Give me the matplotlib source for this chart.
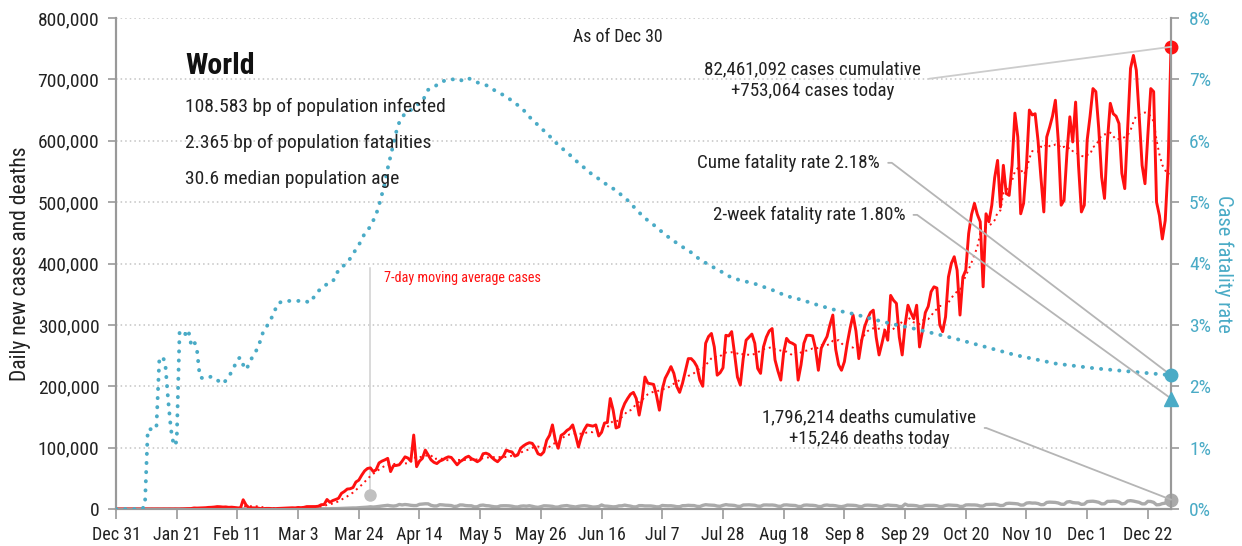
import numpy as np
import pandas as pd
import matplotlib
matplotlib.use('Agg')
import matplotlib.pyplot as plt
import matplotlib.dates as mdates

plt.rcParams['font.family'] = ['Roboto Condensed', 'Liberation Sans Narrow', 'Roboto', 'DejaVu Sans']

#=====================================================================
#data (thousands of people per day, day 0 = Dec 31)
#=====================================================================
start_date = '2019-12-31'

daily_cases_k = [
    0, 0, 0, 0, 0, 0, 0, 0, 0, 0,
    0, 0, 0, 0, 0, 0, 0, 0, 0, 0,
    0.1, 0.15, 0.1, 0.3, 0.5, 0.7, 0.8, 1.7, 1.5, 1.7,
    2.0, 2.1, 2.6, 2.8, 3.2, 3.9, 3.7, 3.2, 3.4, 2.7,
    3.0, 2.5, 2.0, 0.4, 15.1, 6.5, 2.1, 2.0, 1.9, 1.7,
    0.7, 0.6, 1.0, 1.0, 0.6, 0.5, 0.9, 1.1, 1.3, 1.4,
    1.8, 2.0, 1.8, 2.5, 2.2, 2.7, 3.9, 3.9, 3.9, 4.0,
    4.5, 7.0, 7.3, 15.5, 10.9, 13.8, 15.5, 17.5, 25.5, 28.5,
    32.5, 33, 35, 44, 47, 55, 62, 66, 67, 61,
    64, 75, 78, 80, 82.5, 61, 70.6, 71, 72, 78,
    85, 83, 78, 120.5, 69, 78, 82.5, 96, 88, 80,
    76, 74, 78, 80, 83, 85, 84, 78, 72, 77,
    80, 84, 86, 82, 80, 77, 80, 90, 91, 89,
    84, 80, 77, 82, 86, 96, 94, 93, 86, 88,
    99, 103, 106, 108, 107, 100, 90, 88, 93, 112,
    120, 137, 112, 99, 120, 123, 128, 131, 137, 120,
    101, 118, 129, 137, 136, 135, 137, 119, 125, 140,
    141, 180, 161, 132, 134, 160, 172, 180, 187, 190,
    180, 153, 178, 215, 205, 204, 203, 185, 161, 195,
    213, 222, 232, 221, 200, 190, 205, 225, 245, 245,
    240, 232, 210, 200, 270, 281, 286, 264, 218, 222,
    230, 283, 282, 289, 253, 215, 202, 245, 275, 280,
    285, 270, 229, 221, 264, 280, 290, 294, 243, 225,
    210, 255, 278, 272, 270, 267, 210, 235, 270, 283,
    283, 282, 262, 226, 262, 272, 281, 300, 316, 260,
    235, 226, 240, 270, 295, 316, 290, 245, 275, 297,
    310, 320, 324, 280, 251, 270, 291, 275, 348, 340,
    335, 280, 251, 300, 332, 320, 310, 332, 264, 290,
    320, 330, 354, 362, 360, 300, 289, 313, 378, 400,
    411, 389, 316, 378, 389, 449, 480, 498, 480, 468,
    362, 481, 468, 495, 540, 568, 492, 560, 514, 511,
    560, 645, 606, 481, 498, 560, 650, 642, 644, 600,
    540, 484, 606, 622, 640, 666, 600, 495, 503, 580,
    639, 598, 663, 560, 484, 495, 601, 640, 685, 680,
    620, 541, 506, 600, 661, 644, 640, 628, 547, 522,
    620, 718, 739, 715, 640, 560, 530, 610, 685, 680,
    500, 478, 440, 470, 560, 753.064,
]

daily_deaths_k = [
    #Dec 31 - Jan 21
    0, 0, 0, 0, 0, 0, 0, 0, 0, 0, 0, 0, 0, 0, 0, 0, 0, 0, 0, 0, 0, 0,
    #Jan 22 - Feb 9
    0.02, 0.01, 0.01, 0.02, 0.01, 0.03, 0.03, 0.03, 0.04, 0.04, 0.05, 0.06, 0.06, 0.07,
    0.07, 0.07, 0.09, 0.09, 0.10,
    #Feb 10 - Feb 29
    0.11, 0.10, 0.10, 0.25, 0.14, 0.14, 0.11, 0.10, 0.10, 0.14, 0.12, 0.12, 0.10, 0.16,
    0.07, 0.08, 0.06, 0.05, 0.04, 0.06,
    #Mar
    0.06, 0.07, 0.08, 0.10, 0.10, 0.10, 0.11, 0.21, 0.23, 0.26, 0.32, 0.35, 0.42, 0.42,
    0.68, 0.62, 0.82, 1.0, 1.1, 1.4, 1.6, 1.7, 1.7, 2.1, 2.4, 2.7, 3.0, 3.6, 3.2, 3.6, 4.3,
    #Apr
    4.9, 5.5, 6.0, 5.2, 4.8, 5.4, 7.4, 6.6, 7.3, 6.8, 6.0, 5.6, 5.6, 7.6, 8.0, 8.5, 8.4,
    6.0, 5.0, 5.0, 7.0, 6.7, 6.2, 6.0, 5.6, 4.0, 4.6, 6.6, 6.5, 5.6,
    #May
    5.3, 5.2, 3.5, 3.7, 5.9, 6.4, 5.5, 5.2, 4.3, 3.6, 3.5, 5.1, 5.3, 5.3, 5.1, 4.5, 3.5,
    3.3, 4.6, 5.0, 4.6, 5.3, 4.4, 3.3, 2.7, 3.8, 5.2, 5.1, 4.8, 4.3, 3.1,
    #Jun
    3.2, 4.6, 5.2, 5.6, 4.6, 4.0, 3.3, 4.3, 5.0, 5.3, 4.9, 4.1, 3.2, 3.4, 4.0, 6.6, 4.8,
    4.6, 4.0, 3.5, 3.8, 5.1, 5.2, 6.3, 5.4, 4.7, 3.5, 3.5, 5.5, 5.5,
    #Jul
    5.0, 5.0, 5.0, 4.4, 3.5, 3.6, 5.8, 5.4, 5.2, 5.3, 4.7, 3.8, 3.7, 5.4, 5.5, 6.0, 5.7,
    5.6, 4.3, 4.0, 5.9, 7.0, 6.5, 6.2, 6.0, 4.8, 4.4, 6.0, 7.1, 6.4, 6.2,
    #Aug
    5.8, 4.4, 4.2, 6.5, 6.6, 6.8, 6.5, 6.1, 4.7, 4.5, 6.5, 6.6, 6.4, 6.5, 6.0, 4.6, 4.3,
    6.5, 6.7, 6.2, 6.0, 5.7, 4.2, 4.0, 6.2, 6.5, 6.1, 6.0, 5.5, 4.1, 4.0,
    #Sep
    6.0, 6.5, 5.8, 5.8, 5.3, 4.3, 3.8, 4.7, 6.3, 6.2, 6.0, 5.6, 4.3, 3.8, 6.0, 6.3, 6.1,
    5.7, 5.5, 4.2, 3.8, 5.8, 6.5, 6.0, 5.8, 5.5, 4.0, 4.0, 8.0, 5.9,
    #Oct
    6.0, 5.8, 5.3, 3.9, 4.2, 5.8, 6.0, 6.0, 5.9, 5.3, 3.9, 4.1, 5.9, 6.5, 6.2, 6.0, 5.7,
    4.1, 4.2, 6.6, 6.8, 6.6, 6.6, 6.2, 4.8, 4.8, 7.3, 7.4, 7.6, 7.8, 6.9,
    #Nov
    5.6, 5.9, 8.9, 9.4, 9.1, 8.8, 8.3, 6.4, 6.5, 9.6, 10.2, 9.6, 9.7, 8.9, 7.0, 7.2, 10.7,
    11.2, 10.9, 10.7, 9.8, 7.8, 7.6, 11.4, 12.1, 10.5, 10.0, 9.8, 7.5, 8.0,
    #Dec 1 - Dec 30
    12.0, 12.5, 12.7, 12.0, 10.9, 8.3, 8.5, 12.4, 12.4, 12.8, 12.4, 11.3, 8.3, 8.9, 13.0,
    13.6, 12.9, 11.8, 10.8, 8.4, 8.4, 12.5, 12.2, 10.8, 6.8, 7.1, 8.8, 9.5, 14.6, 15.246,
]

#cumulative case fatality rate (%) at selected days
cfr_day = [0, 9, 10, 11, 12, 13, 14, 15, 16, 17, 18, 19, 20, 21, 22, 23, 24, 25, 26, 27,
           28, 29, 30, 31, 33, 35, 37, 39, 41, 42, 43, 44, 45, 46, 47, 49, 50, 51, 52, 53,
           54, 55, 56, 58, 61, 63, 65, 67, 70, 72, 75, 76, 78, 79, 81, 83, 85, 86, 88, 90,
           91, 93, 94, 95, 96, 97, 98, 100, 102, 104, 106, 108, 110, 112, 115, 117, 119,
           121, 123, 125, 127, 129, 131, 133, 135, 137, 139, 141, 143, 145, 147, 149, 151,
           153, 155, 157, 159, 161, 163, 165, 167, 169, 171, 173, 175, 177, 179, 181, 184,
           186, 188, 190, 192, 195, 197, 199, 201, 203, 205, 207, 209, 211, 213, 215, 221,
           227, 232, 237, 243, 249, 256, 262, 269, 276, 283, 290, 297, 304, 311, 318, 325,
           332, 339, 346, 353, 360, 365]
cfr_pct = [0, 0, 0.05, 1.3, 1.3, 1.28, 1.35, 2.45, 2.48, 2.4, 1.8, 1.3, 1.03, 1.1, 2.9, 2.9,
           2.85, 2.92, 2.68, 2.74, 2.6, 2.15, 2.13, 2.12, 2.16, 2.1, 2.04, 2.15, 2.33, 2.44,
           2.47, 2.35, 2.27, 2.36, 2.46, 2.62, 2.75, 2.9, 2.96, 3.05, 3.13, 3.24, 3.35, 3.39,
           3.39, 3.39, 3.40, 3.36, 3.55, 3.64, 3.7, 3.82, 3.95, 3.97, 4.08, 4.23, 4.38, 4.49,
           4.6, 4.8, 4.95, 5.3, 5.55, 5.75, 5.95, 6.15, 6.3, 6.45, 6.5, 6.58, 6.64, 6.83,
           6.87, 6.95, 7.0, 7.0, 6.97, 7.03, 7.0, 6.95, 6.92, 6.89, 6.82, 6.77, 6.72, 6.65,
           6.58, 6.5, 6.39, 6.3, 6.21, 6.12, 6.03, 5.93, 5.85, 5.77, 5.68, 5.6, 5.52, 5.44,
           5.38, 5.31, 5.25, 5.19, 5.11, 5.03, 4.93, 4.83, 4.7, 4.63, 4.55, 4.47, 4.4, 4.3,
           4.24, 4.18, 4.1, 4.04, 3.98, 3.93, 3.88, 3.82, 3.77, 3.74, 3.67, 3.57, 3.47, 3.41,
           3.32, 3.24, 3.17, 3.09, 3.01, 2.94, 2.86, 2.78, 2.69, 2.6, 2.51, 2.44, 2.37, 2.33,
           2.29, 2.26, 2.23, 2.2, 2.18]

two_week_cfr_pct = 1.80

xtick_labels = ['Dec 31', 'Jan 21', 'Feb 11', 'Mar 3', 'Mar 24', 'Apr 14', 'May 5', 'May 26',
                'Jun 16', 'Jul 7', 'Jul 28', 'Aug 18', 'Sep 8', 'Sep 29', 'Oct 20', 'Nov 10',
                'Dec 1', 'Dec 22']
left_ticks = [0, 100000, 200000, 300000, 400000, 500000, 600000, 700000, 800000]
right_ticks = [0, 1, 2, 3, 4, 5, 6, 7, 8]

title_text = 'World'
info_lines = ['108.583 bp of population infected',
              '2.365 bp of population fatalities',
              '30.6 median population age']
asof_text = 'As of Dec 30'
cases_note = '82,461,092 cases cumulative\n+753,064 cases today'
deaths_note = '1,796,214 deaths cumulative\n+15,246 deaths today'
cume_note = 'Cume fatality rate 2.18%'
two_week_note = '2-week fatality rate 1.80%'
ma_note = '7-day moving average cases'
ma_pointer_date = '2020-03-28'
ma_pointer_val = 22000

#=====================================================================
#prep
#=====================================================================
cases = np.array(daily_cases_k) * 1000
deaths = np.array(daily_deaths_k) * 1000
dates = pd.date_range(start_date, periods=len(cases), freq='D')
ma7 = pd.Series(cases).rolling(7, min_periods=1).mean()
cfr_dates = pd.Timestamp(start_date) + pd.to_timedelta(cfr_day, unit='D')

red = '#ff1010'
teal = '#4aabc6'
grey = '#aaaaaa'
axis_grey = '#999999'
ink = '#222222'
note_size = 13.7

#=====================================================================
#plot
#=====================================================================
fig = plt.figure(figsize=(12.42, 5.46), dpi=100)
ax = fig.add_axes([116/1242, 37/546, 1055/1242, 491/546])
ax2 = ax.twinx()

for y in left_ticks[1:]:
    ax.axhline(y, color='#c4c4c4', lw=1.1, ls=(0, (1, 2)), zorder=0)

ax.plot(dates, deaths, color=grey, lw=2.4, zorder=2)
ax.plot(dates, ma7, color=red, lw=1.4, ls=(0, (1, 2)), zorder=3)
ax.plot(dates, cases, color=red, lw=2.1, zorder=4)

ax2.plot(cfr_dates, cfr_pct, color=teal, lw=2.8, ls=(0, (0.05, 2.3)),
         dash_capstyle='round', zorder=3)

#end markers
ax.plot(dates[-1], cases[-1], 'o', color=red, ms=9, clip_on=False, zorder=6)
ax.plot(dates[-1], deaths[-1], 'o', color=grey, ms=9, clip_on=False, zorder=6)
ax2.plot(cfr_dates[-1], cfr_pct[-1], 'o', color=teal, ms=9, clip_on=False, zorder=6)
ax2.plot(dates[-1], two_week_cfr_pct, '^', color=teal, ms=10, clip_on=False, zorder=6)

#axes
ax.set_xlim(dates[0], dates[-1])
ax.set_ylim(0, 800000)
ax2.set_ylim(0, 8)
xt = pd.date_range(start_date, periods=len(xtick_labels), freq='21D')
ax.set_xticks(xt)
ax.set_xticklabels(xtick_labels)
ax.set_yticks(left_ticks)
ax.set_yticklabels([f'{v:,}' for v in left_ticks])
ax2.set_yticks(right_ticks)
ax2.set_yticklabels([f'{v}%' for v in right_ticks])

for a in (ax, ax2):
    a.spines['top'].set_visible(False)
    for s in ('left', 'right', 'bottom'):
        a.spines[s].set_color(axis_grey)
        a.spines[s].set_linewidth(1.5)
ax.tick_params(axis='y', length=6, width=1.2, color=axis_grey, labelsize=14, labelcolor=ink, pad=6)
ax.tick_params(axis='x', length=7, width=1.2, color=axis_grey, labelsize=13, labelcolor=ink, pad=5)
ax2.tick_params(axis='y', length=6, width=1.2, color=axis_grey, labelsize=14, labelcolor=teal, pad=7)

ax.set_ylabel('Daily new cases and deaths', fontsize=15.5, color=ink, labelpad=5)
ax2.set_ylabel('Case fatality rate', fontsize=14.8, color=teal, rotation=270, labelpad=16)

#texts
ax2.text(0.0654, 0.902, title_text, transform=ax.transAxes, fontsize=21.5, ha='left', va='center',
         color='#111111', fontweight='bold')
for i, line in enumerate(info_lines):
    ax2.text(0.0654, 0.819 - i*0.0735, line, transform=ax.transAxes, fontsize=14,
             ha='left', va='center', color=ink)
ax2.text(0.476, 0.961, asof_text, transform=ax.transAxes, fontsize=12.8, ha='center',
         va='center', color=ink)

x_last = mdates.date2num(dates[-1])
ax2.annotate(cases_note, xy=(x_last, cases[-1]), xycoords=ax.transData,
             xytext=(0.66, 0.874), textcoords=ax.transAxes, fontsize=note_size,
             ha='center', va='center', color=ink, linespacing=1.25,
             arrowprops=dict(arrowstyle='-', color='#cccccc', lw=1.3, shrinkA=4,
                             shrinkB=0, relpos=(1, 0.5)))
ax2.annotate(cume_note, xy=(x_last, cfr_pct[-1]), xycoords='data',
             xytext=(0.724, 0.705), textcoords=ax.transAxes, fontsize=note_size,
             ha='right', va='center', color=ink,
             arrowprops=dict(arrowstyle='-', color='#b5b5b5', lw=1.3, shrinkA=4, shrinkB=0,
                             relpos=(1, 0.5),
                             connectionstyle='arc,angleA=0,armA=12,angleB=0,armB=0,rad=0'))
ax2.annotate(two_week_note, xy=(x_last, two_week_cfr_pct), xycoords='data',
             xytext=(0.748, 0.599), textcoords=ax.transAxes, fontsize=note_size,
             ha='right', va='center', color=ink,
             arrowprops=dict(arrowstyle='-', color='#b5b5b5', lw=1.3, shrinkA=4, shrinkB=0,
                             relpos=(1, 0.5),
                             connectionstyle='arc,angleA=0,armA=12,angleB=0,armB=0,rad=0'))
ax2.annotate(deaths_note, xy=(x_last, deaths[-1]), xycoords=ax.transData,
             xytext=(0.714, 0.165), textcoords=ax.transAxes, fontsize=note_size,
             ha='center', va='center', color=ink, linespacing=1.25,
             arrowprops=dict(arrowstyle='-', color='#b5b5b5', lw=1.3, shrinkA=4, shrinkB=0,
                             relpos=(1, 0.5),
                             connectionstyle='arc,angleA=0,armA=10,angleB=0,armB=0,rad=0'))

#moving average label with pointer
ma_x = pd.Timestamp(ma_pointer_date)
ax.plot([ma_x, ma_x], [ma_pointer_val, 392000], color='#d0d0d0', lw=1.1, zorder=1)
ax.plot(ma_x, ma_pointer_val, 'o', color='#c0c0c0', ms=8, zorder=5)
ax.text(0.254, 0.470, ma_note, transform=ax.transAxes, fontsize=10.2, color=red,
        ha='left', va='center')

fig.savefig('out.png', dpi=100)
